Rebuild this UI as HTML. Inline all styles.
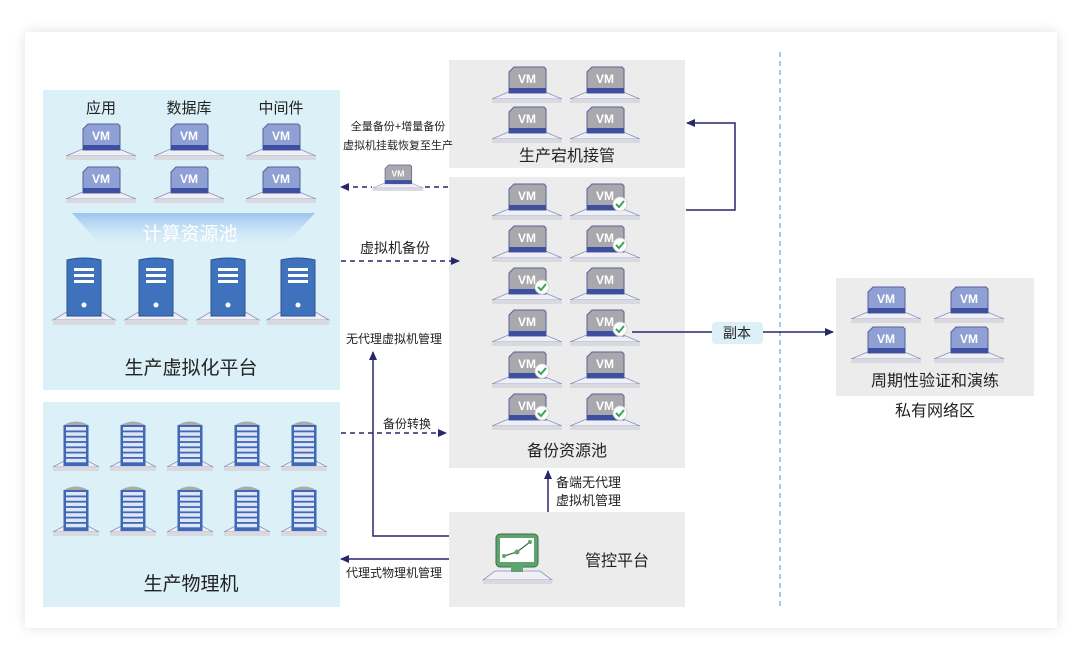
<!DOCTYPE html>
<html><head><meta charset="utf-8"><style>
html,body{margin:0;padding:0;background:#fff;}
svg{display:block;font-family:"Liberation Sans","Noto Sans CJK SC",sans-serif;}
</style></head><body>
<svg width="1080" height="659" viewBox="0 0 1080 659" xmlns="http://www.w3.org/2000/svg">
<defs>
<filter id="sh" x="-5%" y="-5%" width="110%" height="110%"><feGaussianBlur stdDeviation="6"/></filter>
<linearGradient id="pool" x1="0" y1="0" x2="0" y2="1"><stop offset="0" stop-color="#9cc3ef"/><stop offset="1" stop-color="#dcf0f7" stop-opacity="0.3"/></linearGradient>
<g id="base"><polygon points="-16,24 16,24 35,32 -35,32" fill="#eef0f6" stroke="#8a8fb8" stroke-width="0.8"/><rect x="-35" y="32" width="70" height="4" fill="#d8dae0"/></g>
<g id="vmb"><use href="#base"/><path d="M-18,5 L-13,0 L17,0 L19,2 L19,26 L-18,26 Z" fill="#8fa0d4" stroke="#5a5f98" stroke-width="1"/><rect x="-18" y="21" width="37" height="5" fill="#3d4fa0"/><text x="0" y="16" font-size="12" font-weight="bold" fill="#fff" text-anchor="middle">VM</text></g>
<g id="vmg"><use href="#base"/><path d="M-18,5 L-13,0 L17,0 L19,2 L19,26 L-18,26 Z" fill="#a9a9ad" stroke="#5a5f98" stroke-width="1"/><rect x="-18" y="21" width="37" height="5" fill="#3d4fa0"/><text x="0" y="16" font-size="12" font-weight="bold" fill="#fff" text-anchor="middle">VM</text></g>
<g id="ck"><circle cx="0" cy="0" r="7" fill="#fff" stroke="#ccc" stroke-width="0.8"/><path d="M-4,0 L-1,3 L4,-3" fill="none" stroke="#3aa55a" stroke-width="2"/></g>
<g id="srv"><polygon points="-14,52 14,52 31,62 -31,62" fill="#eef0f6" stroke="#8a8fb8" stroke-width="0.8"/><rect x="-31" y="62" width="62" height="5" fill="#d8dae0"/><path d="M-17,2 Q0,-2 17,2 L17,58 L-17,58 Z" fill="#3f72bd" stroke="#2b4f90"/><rect x="-10" y="10" width="20" height="3" fill="#fff"/><rect x="-10" y="16" width="20" height="3" fill="#fff"/><rect x="-10" y="22" width="20" height="3" fill="#fff"/><circle cx="0" cy="47" r="2.5" fill="#fff"/></g>
<g id="rack"><polygon points="-10,40 10,40 23,47 -23,47" fill="#eef0f6" stroke="#8a8fb8" stroke-width="0.8"/><rect x="-23" y="47" width="46" height="4" fill="#d8dae0"/><path d="M-12,5 Q0,-2 12,5 Z" fill="#aaa"/><rect x="-12.5" y="5" width="25" height="41" fill="#3f68b8"/>
<g fill="#dfe6f5"><rect x="-10" y="7" width="20" height="3.5"/><rect x="-10" y="12.3" width="20" height="3.5"/><rect x="-10" y="17.6" width="20" height="3.5"/><rect x="-10" y="22.9" width="20" height="3.5"/><rect x="-10" y="28.2" width="20" height="3.5"/><rect x="-10" y="33.5" width="20" height="3.5"/><rect x="-10" y="38.8" width="20" height="3.5"/></g></g>
<marker id="ah" markerWidth="10" markerHeight="10" refX="8" refY="5" orient="auto" markerUnits="userSpaceOnUse"><path d="M0,1 L9,5 L0,9 Z" fill="#27276b"/></marker>
</defs>
<rect x="25" y="32" width="1032" height="596" fill="#000" opacity="0.12" filter="url(#sh)"/>
<rect x="25" y="32" width="1032" height="596" fill="#fff"/>

<rect x="43" y="90" width="297" height="300" fill="#dcf0f7"/>
<rect x="43" y="402" width="297" height="205" fill="#dcf0f7"/>
<rect x="449" y="60" width="236" height="108" fill="#ececec"/>
<rect x="449" y="177" width="236" height="291" fill="#ececec"/>
<rect x="449" y="512" width="236" height="95" fill="#ececec"/>
<rect x="836" y="278" width="198" height="118" fill="#ececec"/>
<line x1="780" y1="52" x2="780" y2="607" stroke="#8db4e8" stroke-width="1.5" stroke-dasharray="5,4"/>

<g font-size="15" fill="#222" text-anchor="middle"><text x="101" y="113">应用</text><text x="189" y="113">数据库</text><text x="281" y="113">中间件</text></g>
<use href="#vmb" x="101" y="124"/><use href="#vmb" x="189" y="124"/><use href="#vmb" x="281" y="124"/>
<use href="#vmb" x="101" y="167"/><use href="#vmb" x="189" y="167"/><use href="#vmb" x="281" y="167"/>
<polygon points="72,213 315,213 285,245 100,245" fill="url(#pool)"/>
<text x="190" y="240" font-size="19" fill="#fff" text-anchor="middle">计算资源池</text>
<use href="#srv" x="84" y="258"/><use href="#srv" x="156" y="258"/><use href="#srv" x="228" y="258"/><use href="#srv" x="298" y="258"/>
<text x="191" y="374" font-size="19" fill="#222" text-anchor="middle">生产虚拟化平台</text>

<use href="#rack" x="76" y="420"/><use href="#rack" x="133" y="420"/><use href="#rack" x="190" y="420"/><use href="#rack" x="247" y="420"/><use href="#rack" x="304" y="420"/>
<use href="#rack" x="76" y="485"/><use href="#rack" x="133" y="485"/><use href="#rack" x="190" y="485"/><use href="#rack" x="247" y="485"/><use href="#rack" x="304" y="485"/>
<text x="191" y="590" font-size="19" fill="#222" text-anchor="middle">生产物理机</text>

<use href="#vmg" x="527" y="67"/><use href="#vmg" x="605" y="67"/>
<use href="#vmg" x="527" y="107"/><use href="#vmg" x="605" y="107"/>
<text x="567" y="161" font-size="16" fill="#222" text-anchor="middle">生产宕机接管</text>

<g>
<use href="#vmg" x="527" y="184"/><use href="#vmg" x="605" y="184"/><use href="#ck" x="620" y="204"/>
<use href="#vmg" x="527" y="226"/><use href="#vmg" x="605" y="226"/><use href="#ck" x="620" y="245"/>
<use href="#vmg" x="527" y="268"/><use href="#ck" x="542" y="287"/><use href="#vmg" x="605" y="268"/>
<use href="#vmg" x="527" y="310"/><use href="#vmg" x="605" y="310"/><use href="#ck" x="620" y="329"/>
<use href="#vmg" x="527" y="352"/><use href="#ck" x="542" y="371"/><use href="#vmg" x="605" y="352"/>
<use href="#vmg" x="527" y="394"/><use href="#ck" x="542" y="413"/><use href="#vmg" x="605" y="394"/><use href="#ck" x="620" y="413"/>
</g>
<text x="567" y="456" font-size="16" fill="#222" text-anchor="middle">备份资源池</text>

<polygon points="495,571 540,571 552,580 483,580" fill="#eef0f6" stroke="#8a8fb8" stroke-width="0.8"/><rect x="483" y="580" width="69" height="4" fill="#d8dae0"/>
<rect x="496" y="534" width="42" height="33" rx="4" fill="#5fa46e" stroke="#3b6e48"/>
<rect x="500" y="538" width="34" height="24" fill="#fff"/>
<rect x="511" y="566" width="12" height="6" fill="#5fa46e"/>
<polyline points="504,556 517,552 530,542" fill="none" stroke="#3b6e48" stroke-width="1.2"/>
<circle cx="504" cy="556" r="2" fill="#5fa46e"/><circle cx="517" cy="552" r="2.5" fill="#5fa46e"/><circle cx="530" cy="542" r="2" fill="#5fa46e"/>
<text x="617" y="566" font-size="16" fill="#222" text-anchor="middle">管控平台</text>

<use href="#vmb" x="886" y="287"/><use href="#vmb" x="969" y="287"/>
<use href="#vmb" x="886" y="327"/><use href="#vmb" x="969" y="327"/>
<text x="935" y="386" font-size="16" fill="#222" text-anchor="middle">周期性验证和演练</text>
<text x="935" y="416" font-size="16" fill="#222" text-anchor="middle">私有网络区</text>

<g stroke="#27276b" stroke-width="1.5" fill="none">
<line x1="448" y1="187" x2="341" y2="187" stroke-dasharray="5,4" marker-end="url(#ah)"/>
<line x1="341" y1="261" x2="459" y2="261" stroke-dasharray="5,4" marker-end="url(#ah)"/>
<line x1="341" y1="433" x2="446" y2="433" stroke-dasharray="5,4" marker-end="url(#ah)"/>
<polyline points="449,536 373,536 373,352" marker-end="url(#ah)"/>
<line x1="449" y1="559" x2="341" y2="559" marker-end="url(#ah)"/>
<line x1="548" y1="512" x2="548" y2="471" marker-end="url(#ah)"/>
<polyline points="686,210 735,210 735,123 687,123" marker-end="url(#ah)"/>
<line x1="632" y1="332" x2="833" y2="332" marker-end="url(#ah)"/>
</g>
<rect x="372" y="168" width="52" height="20" fill="#fff"/>
<use href="#vmg" x="398" y="165" transform="translate(398 165) scale(0.72) translate(-398 -165)"/>
<rect x="712" y="322" width="51" height="22" rx="4" fill="#dcf0f7"/>
<text x="737" y="338" font-size="14" fill="#222" text-anchor="middle">副本</text>
<g fill="#222" text-anchor="middle">
<text x="398" y="130" font-size="11">全量备份+增量备份</text>
<text x="398" y="149" font-size="11">虚拟机挂载恢复至生产</text>
<text x="395" y="253" font-size="14">虚拟机备份</text>
<text x="394" y="343" font-size="12">无代理虚拟机管理</text>
<text x="407" y="428" font-size="12">备份转换</text>
<text x="394" y="577" font-size="12">代理式物理机管理</text>
</g>
<text x="556" y="487" font-size="13" fill="#222">备端无代理</text>
<text x="556" y="505" font-size="13" fill="#222">虚拟机管理</text>
</svg>
</body></html>
